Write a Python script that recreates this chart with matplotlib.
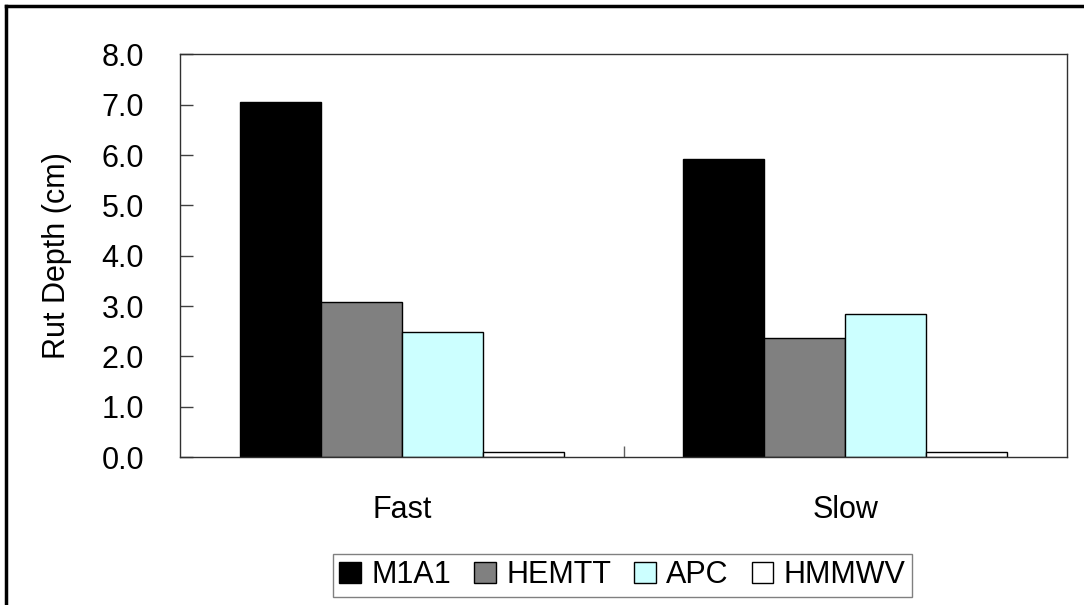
import numpy as np
import matplotlib.pyplot as plt
from matplotlib.lines import Line2D

plt.rcParams['font.family'] = ['Liberation Sans', 'DejaVu Sans']

# données
speeds = ["Fast", "Slow"]
vehicles = ["M1A1", "HEMTT", "APC", "HMMWV"]
m1a1 = [7.05, 5.93]
hemtt = [3.07, 2.37]
apc = [2.48, 2.85]
hmmwv = [0.10, 0.10]
colors = ["#000000", "#808080", "#CCFFFF", "#FFFFFF"]

fig = plt.figure(figsize=(10.84, 6.05), dpi=100)
ax = fig.add_axes([0.1661, 0.2446, 0.8183, 0.6656])

x = np.arange(len(speeds))
w = 0.1826
for i, (name, vals) in enumerate(zip(vehicles, [m1a1, hemtt, apc, hmmwv])):
    ax.bar(x + (i - 1.5) * w, vals, width=w, color=colors[i],
           edgecolor="black", linewidth=1, label=name)

fs = 22
ax.set_xlim(-0.5, 1.5)
ax.set_ylim(0, 8)
ax.set_yticks(np.arange(0, 8.1, 1.0))
ax.set_yticklabels([f"{v:.1f}" for v in np.arange(0, 8.1, 1.0)])
ax.tick_params(axis="y", direction="in", length=9, width=1, color="#404040",
               labelsize=fs, pad=26)
ax.set_xticks(x)
ax.set_xticklabels(speeds)
ax.tick_params(axis="x", which="major", length=0, labelsize=fs, pad=27)
ax.set_xticks([0.5], minor=True)
ax.tick_params(axis="x", which="minor", direction="in", length=8, width=1,
               color="#606060")
for s in ax.spines.values():
    s.set_color("#303030")
    s.set_linewidth(1)

ax.set_ylabel("Rut Depth (cm)", fontsize=fs)
ax.yaxis.set_label_coords(-0.1218, 0.5)

leg = fig.legend(loc="center", bbox_to_anchor=(0.5743, 0.0488), ncol=4,
                 fontsize=fs, frameon=True, fancybox=False, handlelength=0.7,
                 handleheight=0.7, handletextpad=0.35, columnspacing=0.75,
                 borderpad=0.22, borderaxespad=0)
leg.get_frame().set_edgecolor("#606060")
leg.get_frame().set_linewidth(1)

# bordure de la figure (haut et gauche)
fig.add_artist(Line2D([0.0055, 1], [0.99, 0.99], color="black", lw=2.5,
                      transform=fig.transFigure))
fig.add_artist(Line2D([0.0055, 0.0055], [0, 0.99], color="black", lw=2.5,
                      transform=fig.transFigure))

fig.savefig("out.png", dpi=100)
